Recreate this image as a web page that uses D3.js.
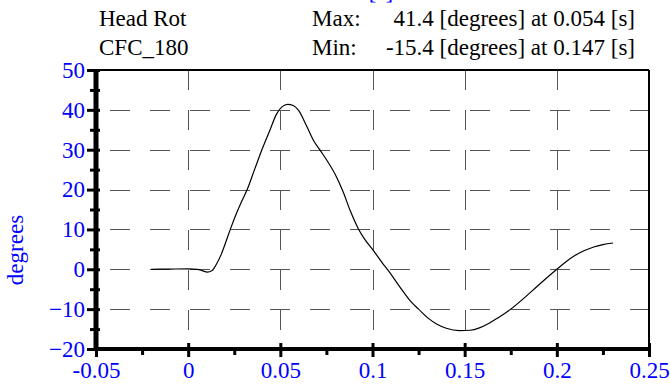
<!DOCTYPE html>
<html><head><meta charset="utf-8">
<script src="https://cdn.jsdelivr.net/npm/d3@7"></script>
<style>
html,body{margin:0;padding:0;background:#fff;}
svg{display:block;}
svg text{font-family:"Liberation Serif","Times New Roman",Times,serif !important;}
</style></head>
<body><svg id="c" width="670" height="386"></svg>
<script>
const timeS = [-0.02,-0.01,0,0.005,0.008,0.0103,0.013,0.015,0.018,0.020,0.023,0.026,0.029,0.032,0.036,0.040,0.044,0.048,0.051,0.054,0.057,0.060,0.064,0.068,0.072,0.076,0.080,0.084,0.088,0.0925,0.096,0.100,0.105,0.109,0.113,0.117,0.121,0.125,0.130,0.135,0.140,0.147,0.153,0.158,0.163,0.168,0.175,0.182,0.190,0.200,0.205,0.210,0.215,0.220,0.225,0.2305];
const headRot = [0,0.05,0.1,0,-0.4,-0.7,-0.3,1.0,3.8,6.3,10.2,13.8,17,20,25,30,34.5,39,40.8,41.4,41.1,39.8,36.2,32.3,29.6,26.8,23.6,19.5,14.6,10,7.4,5,1.8,-0.6,-3.2,-5.8,-8.2,-10,-12.2,-13.8,-14.8,-15.4,-15.3,-14.7,-13.6,-12.2,-10,-7.3,-4,0,1.9,3.5,4.7,5.6,6.2,6.6];
const xTicks = [-0.05,0,0.05,0.1,0.15,0.2,0.25];
const xTickLabels = ["-0.05","0","0.05","0.1","0.15","0.2","0.25"];
const xMinor = [-0.025,0.025,0.075,0.125,0.175,0.225];
const yTicks = [-20,-10,0,10,20,30,40,50];
const yMinor = [-15,-5,5,15,25,35,45];
const xGrid = [0,0.05,0.1,0.15,0.2];
const yGrid = [-10,0,10,20,30,40];
const titleLeft = ["Head Rot","CFC_180"];
const statLabels = ["Max:","Min:"];
const statValues = ["41.4 [degrees] at 0.054 [s]","-15.4 [degrees] at 0.147 [s]"];
const xTitle = "[s]";
const yTitle = "degrees";

const L=96,R=649,T=70,B=349;
const fs=23;
const blue="#0000ff";
const svg=d3.select("#c");
const x=d3.scaleLinear().domain([-0.05,0.25]).range([L,R]);
const y=d3.scaleLinear().domain([-20,50]).range([B,T]);

// grid
const g=svg.append("g");
g.selectAll("line.h").data(yGrid).join("line")
 .attr("x1",L).attr("x2",R).attr("y1",d=>Math.round(y(d))+0.5).attr("y2",d=>Math.round(y(d))+0.5)
 .attr("stroke","#555").attr("stroke-width",1).attr("stroke-dasharray","20,20").attr("stroke-dashoffset",26);
g.selectAll("line.v").data(xGrid).join("line")
 .attr("y1",T).attr("y2",B).attr("x1",d=>Math.round(x(d))+0.5).attr("x2",d=>Math.round(x(d))+0.5)
 .attr("stroke","#555").attr("stroke-width",1).attr("stroke-dasharray","20,20").attr("stroke-dashoffset",0);

// curve
const pts=timeS.map((t,i)=>[t,headRot[i]]);
svg.append("path").datum(pts)
 .attr("d",d3.line().x(d=>x(d[0])).y(d=>y(d[1])).curve(d3.curveMonotoneX))
 .attr("fill","none").attr("stroke","#000").attr("stroke-width",1.2);

// frame top/right
svg.append("line").attr("x1",L).attr("x2",R).attr("y1",T).attr("y2",T).attr("stroke","#000").attr("stroke-width",2);
svg.append("line").attr("x1",R).attr("x2",R).attr("y1",T).attr("y2",B).attr("stroke","#000").attr("stroke-width",2);

// axes
const ax=svg.append("g").attr("transform",`translate(0,${B})`)
 .call(d3.axisBottom(x).tickValues(xTicks).tickFormat((d,i)=>xTickLabels[i]).tickSize(8).tickPadding(5));
ax.select(".domain").attr("stroke","#000").attr("stroke-width",4).attr("d",`M${L-2},0H${R+1}`);
ax.selectAll(".tick line").attr("y1",-6).attr("y2",8).attr("stroke-width",3);
ax.selectAll(".tick text").attr("font-size",fs).attr("fill",blue);
const axm=svg.append("g").attr("transform",`translate(0,${B})`)
 .call(d3.axisBottom(x).tickValues(xMinor).tickFormat("").tickSize(6));
axm.select(".domain").remove();
axm.selectAll(".tick line").attr("y1",-2).attr("y2",6).attr("stroke-width",3);

const ay=svg.append("g").attr("transform",`translate(${L},0)`)
 .call(d3.axisLeft(y).tickValues(yTicks).tickSize(9).tickPadding(2));
ay.select(".domain").attr("stroke","#000").attr("stroke-width",5).attr("d",`M0,${T-1}V${B+2}`);
ay.selectAll(".tick line").attr("x1",4).attr("x2",-9).attr("stroke-width",3);
ay.selectAll(".tick text").attr("font-size",fs).attr("fill",blue);
const aym=svg.append("g").attr("transform",`translate(${L},0)`)
 .call(d3.axisLeft(y).tickValues(yMinor).tickFormat("").tickSize(6));
aym.select(".domain").remove();
aym.selectAll(".tick line").attr("x1",4).attr("x2",-6).attr("stroke-width",3);

// titles
svg.append("text").attr("x",381).attr("y",-1).attr("text-anchor","middle").attr("font-size",fs).attr("fill",blue).text(xTitle);
svg.append("text").attr("transform",`translate(23,250) rotate(-90)`).attr("text-anchor","middle").attr("font-size",fs).attr("fill",blue).text(yTitle);

svg.selectAll("text.tl").data(titleLeft).join("text").attr("class","tl")
 .attr("x",99).attr("y",(d,i)=>26+i*29).attr("font-size",fs).attr("fill","#000").text(d=>d);
svg.selectAll("text.sl").data(statLabels).join("text").attr("class","sl")
 .attr("x",312).attr("y",(d,i)=>26+i*29).attr("font-size",fs).attr("fill","#000").text(d=>d);
svg.selectAll("text.sv").data(statValues).join("text").attr("class","sv")
 .attr("x",635).attr("y",(d,i)=>26+i*29).attr("text-anchor","end").attr("font-size",fs).attr("fill","#000").text(d=>d);
</script></body></html>
